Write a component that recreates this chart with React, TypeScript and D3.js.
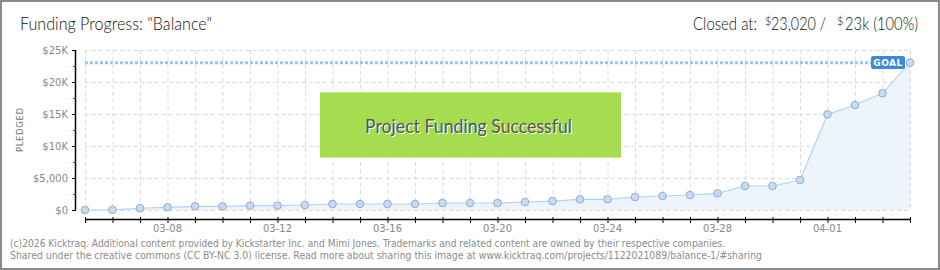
import React from "react";
import * as d3 from "d3";

const dates = [
  "03-05","03-06","03-07","03-08","03-09","03-10","03-11","03-12","03-13","03-14",
  "03-15","03-16","03-17","03-18","03-19","03-20","03-21","03-22","03-23","03-24",
  "03-25","03-26","03-27","03-28","03-29","03-30","03-31","04-01","04-02","04-03","04-04",
];
const pledged = [
  0, 20, 270, 420, 580, 580, 680, 680, 780, 940,
  940, 940, 940, 1090, 1090, 1090, 1250, 1400, 1670, 1670,
  2030, 2190, 2340, 2600, 3750, 3750, 4690, 14950, 16400, 18230, 23020,
];
const labeledDates = ["03-08", "03-12", "03-16", "03-20", "03-24", "03-28", "04-01"];
const yTicks = [0, 5000, 10000, 15000, 20000, 25000];
const yTickLabels = ["$0", "$5,000", "$10K", "$15K", "$20K", "$25K"];
const yMinorTicks = [2500, 7500, 12500, 17500, 22500];
const goal = 23000;

const W = 940;
const H = 270;

export default function App() {
  const x = d3.scalePoint<string>().domain(dates).range([85, 910]);
  const y = d3.scaleLinear().domain([0, 25000]).range([210, 50]);
  const data = dates.map((d, i) => ({ d, v: pledged[i] }));
  const line = d3.line<{ d: string; v: number }>().x((p) => x(p.d)!).y((p) => y(p.v));
  const area = d3
    .area<{ d: string; v: number }>()
    .x((p) => x(p.d)!)
    .y0(y(0))
    .y1((p) => y(p.v));
  const sans = "'DejaVu Sans', Verdana, sans-serif";
  const title = "Lato, 'Open Sans', sans-serif";
  const x0 = x(dates[0])!;
  const x1 = x(dates[dates.length - 1])!;

  return (
    <svg
      width={W}
      height={H}
      style={{ position: "absolute", left: 0, top: 0, background: "#fff" }}
    >
      <rect x={1} y={1} width={W - 2} height={H - 2} fill="#fff" stroke="#8a8a8a" strokeWidth={2} />

      {/* title */}
      <text x={20} y={30} fontFamily={title} fontWeight={300} fontSize={17} fill="#111" textLength={192} lengthAdjust="spacingAndGlyphs">
        Funding Progress: "Balance"
      </text>
      <text x={693} y={30} fontFamily={title} fontWeight={300} fontSize={17} fill="#111" textLength={64} lengthAdjust="spacingAndGlyphs">
        Closed at:
      </text>
      <text x={765} y={25} fontFamily={title} fontWeight={300} fontSize={11} fill="#111">$</text>
      <text x={771} y={30} fontFamily={title} fontWeight={300} fontSize={17} fill="#111" textLength={55} lengthAdjust="spacingAndGlyphs">
        23,020 /
      </text>
      <text x={837} y={25} fontFamily={title} fontWeight={300} fontSize={11} fill="#111">$</text>
      <text x={845} y={30} fontFamily={title} fontWeight={300} fontSize={17} fill="#111" textLength={73} lengthAdjust="spacingAndGlyphs">
        23k (100%)
      </text>

      {/* grid */}
      <g stroke="#dcdcdc" strokeWidth={1} strokeDasharray="4,3">
        {yTicks.map((t) => (
          <line key={"h" + t} x1={x0} x2={x1} y1={y(t) + 0.5} y2={y(t) + 0.5} />
        ))}
        {dates.map((d) => (
          <line key={"v" + d} x1={x(d)! + 0.5} x2={x(d)! + 0.5} y1={y(25000)} y2={y(0)} />
        ))}
      </g>

      {/* area & line */}
      <path d={area(data)!} fill="#edf4fc" />
      <path d={line(data)!} fill="none" stroke="#b5d3f3" strokeWidth={1.2} />

      {/* goal line */}
      <line
        x1={x0}
        x2={871}
        y1={y(goal)}
        y2={y(goal)}
        stroke="#9fc3ee"
        strokeWidth={3}
        strokeDasharray="3,2"
      />

      {/* points */}
      {data.map((p) => (
        <circle key={p.d} cx={x(p.d)} cy={y(p.v)} r={3.8} fill="#c4dcf6" stroke="#94abca" strokeWidth={1} />
      ))}

      {/* goal label */}
      <rect x={871} y={56} width={34} height={13} rx={2} fill="#3d88d8" />
      <text x={888} y={66} textAnchor="middle" fontFamily={sans} fontSize={9} fontWeight="bold" fill="#fff" letterSpacing={0.5}>
        GOAL
      </text>

      {/* y axis */}
      <line x1={75.5} x2={75.5} y1={y(25000)} y2={y(0)} stroke="#000" strokeWidth={1.5} />
      {yTicks.map((t, i) => (
        <g key={"yt" + t}>
          <line x1={72} x2={76} y1={y(t) + 0.5} y2={y(t) + 0.5} stroke="#000" />
          <text x={68} y={y(t) + 4} textAnchor="end" fontFamily={sans} fontSize={10} fill="#888">
            {yTickLabels[i]}
          </text>
        </g>
      ))}
      {yMinorTicks.map((t) => (
        <line key={"ym" + t} x1={73} x2={76} y1={y(t) + 0.5} y2={y(t) + 0.5} stroke="#e00" />
      ))}
      <text
        transform="translate(23,130) rotate(-90)"
        textAnchor="middle"
        fontFamily={sans}
        fontSize={8.5}
        fill="#777"
        textLength={44}
        lengthAdjust="spacing"
      >
        PLEDGED
      </text>

      {/* x axis */}
      <line x1={x0} x2={x1 + 1} y1={219.5} y2={219.5} stroke="#000" strokeWidth={1.5} />
      {dates.map((d) => (
        <line key={"xt" + d} x1={x(d)! + 0.5} x2={x(d)! + 0.5} y1={217} y2={223} stroke="#000" />
      ))}
      {labeledDates.map((d) => (
        <text key={"xl" + d} x={x(d)} y={232} textAnchor="middle" fontFamily={sans} fontSize={10} fill="#888">
          {d}
        </text>
      ))}

      {/* success box */}
      <rect x={320} y={92} width={301} height={66} fill="#a6dc4f" />
      <line x1={320} x2={621} y1={92.5} y2={92.5} stroke="#c4ee80" />
      <line x1={320} x2={621} y1={157.5} y2={157.5} stroke="#c4ee80" />
      <text x={366} y={134} fontFamily={title} fontSize={19} fill="#fff" textLength={207} lengthAdjust="spacingAndGlyphs">
        Project Funding Successful
      </text>
      <text x={365} y={133} fontFamily={title} fontSize={19} fill="#555" textLength={207} lengthAdjust="spacingAndGlyphs">
        Project Funding Successful
      </text>

      {/* footer */}
      <text x={10} y={247} fontFamily={sans} fontSize={10} fill="#8c8c8c" textLength={715} lengthAdjust="spacingAndGlyphs">
        (c)2026 Kicktraq. Additional content provided by Kickstarter Inc. and Mimi Jones. Trademarks and related content are owned by their respective companies.
      </text>
      <text x={10} y={259} fontFamily={sans} fontSize={10} fill="#8c8c8c" textLength={752} lengthAdjust="spacingAndGlyphs">
        Shared under the creative commons (CC BY-NC 3.0) license. Read more about sharing this image at www.kicktraq.com/projects/1122021089/balance-1/#sharing
      </text>
    </svg>
  );
}
